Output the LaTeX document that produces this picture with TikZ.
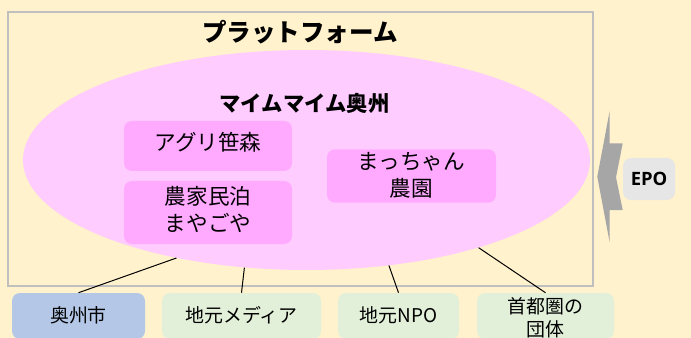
\documentclass[tikz,border=0pt]{standalone}
\usepackage{fontspec}
\setmainfont{Noto Sans CJK JP}
\newfontfamily\latinbold{Open Sans}
\usetikzlibrary{shapes.geometric}
\definecolor{bgc}{HTML}{FFF2CC}
\definecolor{framec}{HTML}{BFBFBF}
\definecolor{ellc}{HTML}{FFCCFF}
\definecolor{boxc}{HTML}{FFA9FF}
\definecolor{bluec}{HTML}{B4C7E7}
\definecolor{greenc}{HTML}{E2F0D9}
\definecolor{grayc}{HTML}{E7E6E6}
\definecolor{arrowc}{HTML}{A6A6A6}
\newcommand\liftlabel[2]{\raisebox{#1}[\height][\depth]{\begin{tabular}{@{}c@{}}#2\end{tabular}}}
\tikzset{
  x=0.75pt,y=-0.75pt,
  rbox/.style={rectangle,rounded corners=6pt,inner sep=0pt,align=center,text=black},
  pinkbox/.style={rbox,fill=boxc,font=\fontsize{16.2pt}{20pt}\selectfont},
  orgbox/.style={rbox,font=\fontsize{14.2pt}{17pt}\selectfont},
  link/.style={draw=black,line width=0.75pt},
  titletext/.style={inner sep=0pt,font=\fontsize{18.4pt}{22pt}\selectfont\bfseries},
}
\begin{document}
\begin{tikzpicture}
\fill[bgc] (0,0) rectangle (691,338);
\useasboundingbox (0,0) rectangle (691,338);
\node[draw=framec,line width=1.5pt,minimum width=438.75pt,minimum height=205.5pt,inner sep=0pt] (frame) at (300.5,149) {};
\node[titletext] (title) at (300,32) {プラットフォーム};
\node[ellipse,fill=ellc,minimum width=425.25pt,minimum height=165pt,inner sep=0pt] (ell) at (306.5,160) {};
\node[inner sep=0pt,font=\fontsize{16pt}{20pt}\selectfont\bfseries] (mm) at (304.5,103) {マイムマイム奥州};
\node[pinkbox,minimum width=126pt,minimum height=37.5pt] (agri) at (208,146) {\liftlabel{0.5pt}{アグリ笹森}};
\node[pinkbox,minimum width=126pt,minimum height=47.25pt] (noka) at (208,212.5) {\liftlabel{0pt}{農家民泊\\まやごや}};
\node[pinkbox,minimum width=126.75pt,minimum height=37.5pt] (macchan) at (411.5,176) {\liftlabel{-1.2pt}{まっちゃん\\農園}};
\node[orgbox,fill=bluec,minimum width=99.75pt,minimum height=34.5pt] (oshu) at (78.5,316) {\liftlabel{-1.2pt}{奥州市}};
\node[orgbox,fill=greenc,minimum width=119.25pt,minimum height=34.5pt] (media) at (241.5,316) {\liftlabel{-1.2pt}{地元メディア}};
\node[orgbox,fill=greenc,minimum width=90.75pt,minimum height=34.5pt] (npo) at (398.5,316) {\liftlabel{-1.2pt}{地元NPO}};
\node[orgbox,fill=greenc,minimum width=102.75pt,minimum height=34.5pt] (shuto) at (545.5,316) {\liftlabel{-3.2pt}{首都圏の\\団体}};
\node[rbox,fill=grayc,minimum width=39pt,minimum height=31.5pt,font=\fontsize{13.8pt}{16pt}\latinbold\bfseries] (epo) at (649,179) {EPO};
\fill[arrowc] (609.7,110.7) -- (609.7,143.3) -- (622.7,143.3) -- (616,177.3) -- (622.7,210) -- (609.7,210) -- (609.7,242.7) -- (597.3,176.7) -- cycle;
\draw[link] (oshu.north) -- (ell.217);
\draw[link] (media.north) -- (ell.240);
\draw[link] (npo.north) -- (ell.308);
\draw[link] (shuto.north) -- (ell.333);
\end{tikzpicture}
\end{document}
